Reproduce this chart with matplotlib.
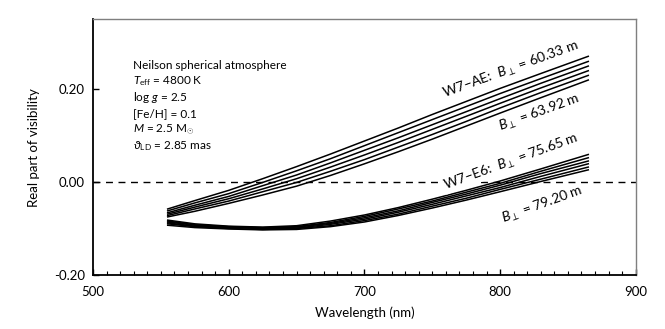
import numpy as np
import matplotlib
matplotlib.use("Agg")
import matplotlib.pyplot as plt
from matplotlib.ticker import MultipleLocator

plt.rcParams['font.family'] = ['Lato', 'DejaVu Sans']
plt.rcParams['mathtext.fontset'] = 'custom'
plt.rcParams['mathtext.rm'] = 'Lato'
plt.rcParams['mathtext.it'] = 'Lato:italic'
plt.rcParams['mathtext.bf'] = 'Lato:bold'

# wavelength grid (nm)
wl = [555, 575, 600, 625, 650, 675, 700, 725, 750, 775, 800, 830, 865]

# W7-AE baselines (60.33 m ... 63.92 m)
ae_1 = [-0.058, -0.040, -0.018, 0.007, 0.033, 0.060, 0.088, 0.116, 0.145, 0.173, 0.201, 0.233, 0.270]
ae_2 = [-0.062, -0.045, -0.025, -0.001, 0.024, 0.050, 0.078, 0.106, 0.134, 0.162, 0.190, 0.222, 0.259]
ae_3 = [-0.066, -0.050, -0.031, -0.008, 0.015, 0.041, 0.068, 0.095, 0.123, 0.151, 0.179, 0.212, 0.249]
ae_4 = [-0.069, -0.054, -0.036, -0.015, 0.007, 0.032, 0.058, 0.085, 0.113, 0.141, 0.169, 0.202, 0.239]
ae_5 = [-0.072, -0.058, -0.041, -0.021, -0.001, 0.023, 0.048, 0.075, 0.102, 0.130, 0.159, 0.192, 0.229]
ae_6 = [-0.075, -0.063, -0.046, -0.028, -0.009, 0.014, 0.039, 0.065, 0.092, 0.120, 0.148, 0.181, 0.219]

# W7-E6 baselines (75.65 m ... 79.20 m)
e6_1 = [-0.082, -0.090, -0.095, -0.097, -0.094, -0.084, -0.071, -0.055, -0.037, -0.018, 0.002, 0.028, 0.059]
e6_2 = [-0.084, -0.092, -0.096, -0.098, -0.096, -0.087, -0.074, -0.058, -0.041, -0.022, -0.003, 0.023, 0.052]
e6_3 = [-0.086, -0.093, -0.097, -0.099, -0.097, -0.089, -0.077, -0.062, -0.044, -0.026, -0.007, 0.018, 0.045]
e6_4 = [-0.088, -0.095, -0.098, -0.100, -0.099, -0.091, -0.080, -0.065, -0.048, -0.030, -0.012, 0.012, 0.039]
e6_5 = [-0.090, -0.096, -0.100, -0.102, -0.100, -0.094, -0.083, -0.069, -0.052, -0.035, -0.016, 0.006, 0.032]
e6_6 = [-0.093, -0.098, -0.101, -0.103, -0.102, -0.096, -0.086, -0.072, -0.056, -0.039, -0.021, 0.001, 0.026]

fig = plt.figure(figsize=(6.65, 3.29), dpi=100)
ax = fig.add_axes([0.14, 0.164, 0.816, 0.778])

for y in [ae_1, ae_2, ae_3, ae_4, ae_5, ae_6, e6_1, e6_2, e6_3, e6_4, e6_5, e6_6]:
    ax.plot(wl, y, color='black', lw=1.1)

ax.axhline(0, color='black', lw=1.0, ls=(0, (5, 4)))

ax.set_xlim(500, 900)
ax.set_ylim(-0.2, 0.35)
ax.set_xticks([500, 600, 700, 800, 900])
ax.xaxis.set_minor_locator(MultipleLocator(10))
ax.set_yticks([-0.2, 0.0, 0.2])
ax.set_yticklabels(['-0.20', '0.00', '0.20'])
ax.tick_params(which='both', direction='in', labelsize=9.5, color='black')
ax.tick_params(which='major', length=4, width=1)
ax.tick_params(which='minor', length=3, width=0.8)
ax.tick_params(axis='x', pad=8)
ax.tick_params(axis='y', pad=6)

for s in ['left', 'bottom']:
    ax.spines[s].set_color('black')
    ax.spines[s].set_linewidth(1.3)
for s in ['top', 'right']:
    ax.spines[s].set_color('#7f7f7f')
    ax.spines[s].set_linewidth(1.0)

ax.set_xlabel('Wavelength (nm)', fontsize=9.5, labelpad=6)
ax.set_ylabel('Real part of visibility', fontsize=9.5, labelpad=10)

info = ['Neilson spherical atmosphere',
        r'$T_{\mathrm{eff}}$ = 4800 K',
        r'log $g$ = 2.5',
        '[Fe/H] = 0.1',
        r'$M$ = 2.5 M$_{\odot}$',
        r'$\vartheta_{\mathrm{LD}}$ = 2.85 mas']
for i, t in enumerate(info):
    ax.text(0.074, 0.82 - i * 0.063, t, transform=ax.transAxes,
            fontsize=8.5, va='center', ha='left')

rot = 20
ax.text(808, 0.241, r'W7–AE:  $B_{\perp}$ = 60.33 m', rotation=rot,
        rotation_mode='anchor', ha='center', va='center', fontsize=10)
ax.text(829, 0.148, r'$B_{\perp}$ = 63.92 m', rotation=rot,
        rotation_mode='anchor', ha='center', va='center', fontsize=10)
ax.text(808, 0.043, r'W7–E6:  $B_{\perp}$ = 75.65 m', rotation=rot,
        rotation_mode='anchor', ha='center', va='center', fontsize=10,
        bbox=dict(facecolor='white', edgecolor='none', pad=0.5))
ax.text(831, -0.049, r'$B_{\perp}$ = 79.20 m', rotation=rot,
        rotation_mode='anchor', ha='center', va='center', fontsize=10)

fig.savefig('out.png', dpi=100)
